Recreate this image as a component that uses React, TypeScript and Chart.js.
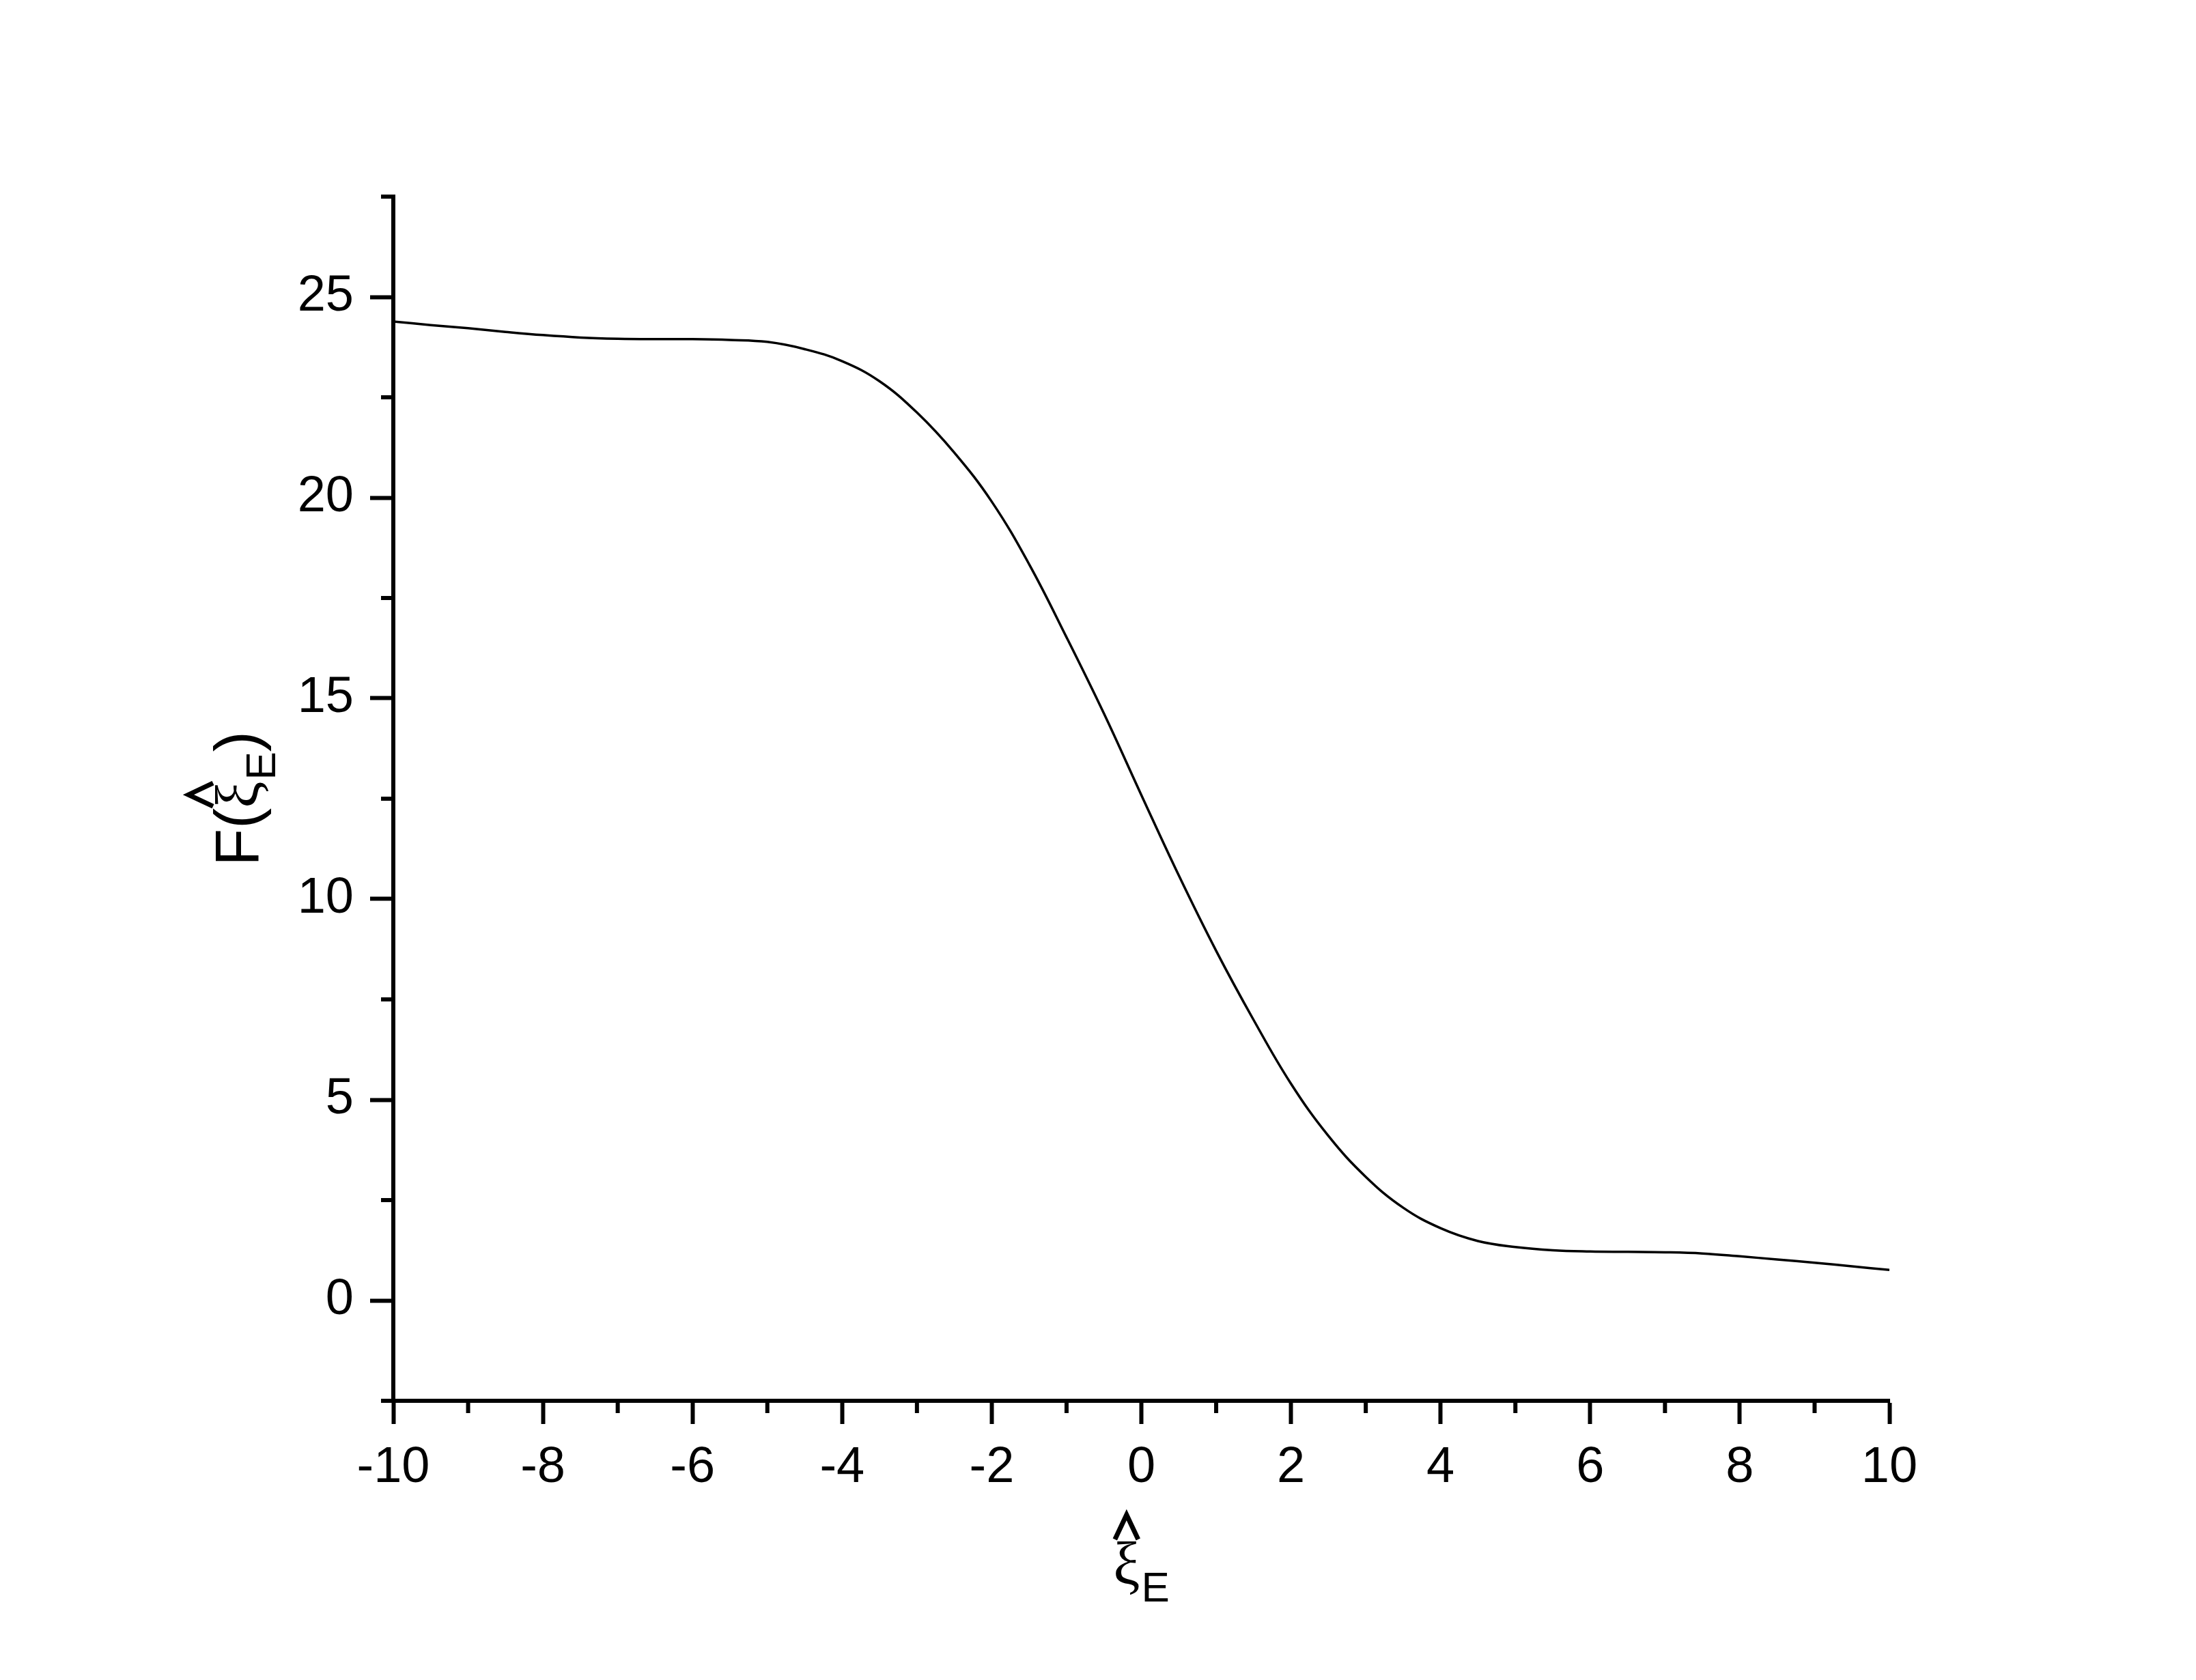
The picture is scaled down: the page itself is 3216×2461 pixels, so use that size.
import React, { useEffect, useRef } from "react";
import { Chart, registerables } from "chart.js";

Chart.register(...registerables);

// ---- data ----
const xValues = [
  -10, -9.5, -9, -8.5, -8, -7.5, -7, -6.5, -6, -5.5, -5, -4.5, -4, -3.5, -3, -2.5, -2, -1.5, -1, -0.5,
  0, 0.5, 1, 1.5, 2, 2.5, 3, 3.5, 4, 4.5, 5, 5.5, 6, 6.5, 7, 7.5, 8, 8.5, 9, 9.5, 10,
];
const fValues = [
  24.39, 24.3, 24.22, 24.13, 24.05, 23.99, 23.96, 23.95, 23.95, 23.93, 23.88, 23.7, 23.4, 22.9, 22.12,
  21.12, 19.9, 18.34, 16.52, 14.62, 12.59, 10.59, 8.71, 6.99, 5.4, 4.1, 3.08, 2.31, 1.8, 1.48, 1.33,
  1.25, 1.22, 1.21, 1.2, 1.17, 1.1, 1.02, 0.94, 0.85, 0.76,
];
const xMajorTicks = [-10, -8, -6, -4, -2, 0, 2, 4, 6, 8, 10];
const xMinorTicks = [-9, -7, -5, -3, -1, 1, 3, 5, 7, 9];
const yMajorTicks = [0, 5, 10, 15, 20, 25];
const yMinorTicks = [-2.5, 2.5, 7.5, 12.5, 17.5, 22.5, 27.5];

const SANS = "'Liberation Sans', Arial, sans-serif";
const SERIF = "'Liberation Serif', 'DejaVu Serif', serif";

// draws  [prefix] ξ̂ _E [suffix]  with baseline at y=0, centred on centerX (local coords)
function drawXiTitle(ctx: CanvasRenderingContext2D, prefix: string, suffix: string, centerX: number) {
  const mainFont = `90px ${SANS}`;
  const xiFont = `88px ${SERIF}`;
  const subFont = `62px ${SANS}`;
  ctx.font = mainFont;
  const wPre = prefix ? ctx.measureText(prefix).width : 0;
  const wSuf = suffix ? ctx.measureText(suffix).width : 0;
  ctx.font = xiFont;
  const wXi = ctx.measureText("ξ").width;
  ctx.font = subFont;
  const wE = ctx.measureText("E").width;
  const total = wPre + wXi + 2 + wE + wSuf;
  let x = centerX - total / 2;
  ctx.fillStyle = "#000";
  ctx.textBaseline = "alphabetic";
  ctx.textAlign = "left";
  if (prefix) {
    ctx.font = mainFont;
    ctx.fillText(prefix, x, 0);
    x += wPre;
  }
  ctx.font = xiFont;
  ctx.fillText("ξ", x, 0);
  // hat
  const hc = x + wXi / 2;
  ctx.save();
  ctx.strokeStyle = "#000";
  ctx.lineWidth = 7;
  ctx.lineJoin = "miter";
  ctx.beginPath();
  ctx.moveTo(hc - 17, -66);
  ctx.lineTo(hc, -102);
  ctx.lineTo(hc + 17, -66);
  ctx.stroke();
  ctx.restore();
  x += wXi + 2;
  ctx.font = subFont;
  ctx.fillText("E", x, 25);
  x += wE;
  if (suffix) {
    ctx.font = mainFont;
    ctx.fillText(suffix, x, 0);
  }
}

const decorPlugin = {
  id: "decor",
  afterDraw(chart: any) {
    const ctx: CanvasRenderingContext2D = chart.ctx;
    const { left, right, top, bottom } = chart.chartArea;
    const xs = chart.scales.x;
    const ys = chart.scales.y;
    ctx.save();
    ctx.strokeStyle = "#000";
    ctx.lineWidth = 6;
    ctx.lineCap = "butt";
    xMinorTicks.forEach((v) => {
      const p = xs.getPixelForValue(v);
      ctx.beginPath();
      ctx.moveTo(p, bottom);
      ctx.lineTo(p, bottom + 18);
      ctx.stroke();
    });
    yMinorTicks.forEach((v) => {
      const p = ys.getPixelForValue(v);
      ctx.beginPath();
      ctx.moveTo(left, p);
      ctx.lineTo(left - 18, p);
      ctx.stroke();
    });
    // x title
    ctx.save();
    ctx.translate(0, 2321);
    drawXiTitle(ctx, "", "", (left + right) / 2);
    ctx.restore();
    // y title
    ctx.save();
    ctx.translate(378, (top + bottom) / 2);
    ctx.rotate(-Math.PI / 2);
    drawXiTitle(ctx, "F(", ")", 0);
    ctx.restore();
    ctx.restore();
  },
};

export default function App() {
  const canvasRef = useRef<HTMLCanvasElement | null>(null);

  useEffect(() => {
    const canvas = canvasRef.current;
    if (!canvas) return;
    const chart = new Chart(canvas, {
      type: "line",
      data: {
        datasets: [
          {
            data: xValues.map((x, i) => ({ x, y: fValues[i] })),
            borderColor: "#000",
            borderWidth: 3.5,
            pointRadius: 0,
            tension: 0.4,
            fill: false,
          },
        ],
      },
      options: {
        animation: false,
        responsive: false,
        devicePixelRatio: 1,
        events: [],
        layout: { padding: { left: 0, top: 288, right: 449, bottom: 0 } },
        plugins: { legend: { display: false }, tooltip: { enabled: false }, title: { display: false } },
        scales: {
          x: {
            type: "linear",
            min: -10,
            max: 10,
            afterBuildTicks: (scale: any) => {
              scale.ticks = xMajorTicks.map((v) => ({ value: v }));
            },
            afterFit: (scale: any) => {
              scale.height = 409;
            },
            border: { display: true, color: "#000", width: 6 },
            grid: { display: true, drawOnChartArea: false, drawTicks: true, tickLength: 34, tickWidth: 6, tickColor: "#000" },
            ticks: {
              autoSkip: false,
              maxRotation: 0,
              padding: 20,
              color: "#000",
              font: { family: SANS, size: 74 },
              callback: (v: any) => String(v),
            },
          },
          y: {
            type: "linear",
            min: -2.5,
            max: 27.5,
            afterBuildTicks: (scale: any) => {
              scale.ticks = yMajorTicks.map((v) => ({ value: v }));
            },
            afterFit: (scale: any) => {
              scale.width = 576;
            },
            border: { display: true, color: "#000", width: 6 },
            grid: { display: true, drawOnChartArea: false, drawTicks: true, tickLength: 34, tickWidth: 6, tickColor: "#000" },
            ticks: {
              autoSkip: false,
              padding: 24,
              color: "#000",
              font: { family: SANS, size: 74 },
              callback: (v: any) => String(v),
            },
          },
        },
      },
      plugins: [decorPlugin],
    } as any);
    return () => chart.destroy();
  }, []);

  return (
    <div style={{ position: "absolute", left: 0, top: 0, width: 3216, height: 2461, background: "#fff" }}>
      <canvas ref={canvasRef} width={3216} height={2461} style={{ width: 3216, height: 2461, display: "block" }} />
    </div>
  );
}
